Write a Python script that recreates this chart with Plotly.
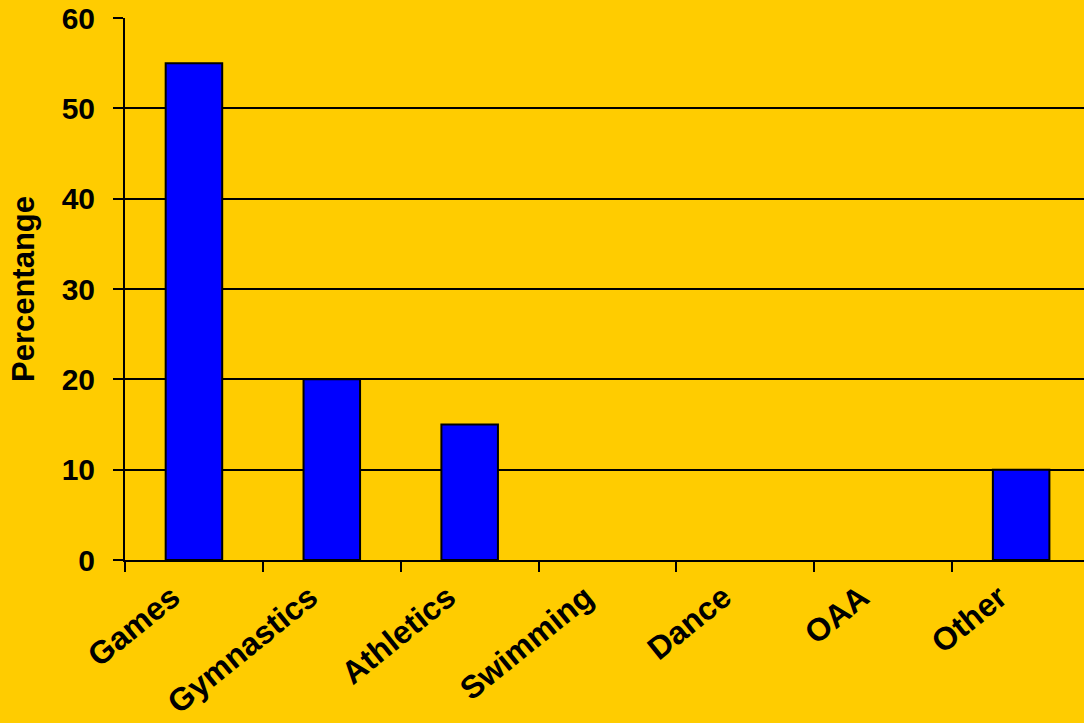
import plotly.graph_objects as go

# Share of PE curriculum time by activity area
activities = ["Games", "Gymnastics", "Athletics", "Swimming", "Dance", "OAA", "Other"]
percentages = [55, 20, 15, 0, 0, 0, 10]
y_ticks = [0, 10, 20, 30, 40, 50, 60]

GOLD = "#FFCC00"
FONT = "Liberation Sans, Arial, sans-serif"

# empty categories get no outline so nothing is drawn on the baseline
outline_widths = [2 if v > 0 else 0 for v in percentages]

fig = go.Figure(
    go.Bar(
        x=activities,
        y=percentages,
        width=0.41,
        marker=dict(color="#0000FF", line=dict(color="black", width=outline_widths)),
    )
)

fig.update_layout(
    width=1084,
    height=723,
    paper_bgcolor=GOLD,
    plot_bgcolor=GOLD,
    margin=dict(l=125, r=0, t=18, b=163),
    showlegend=False,
    font=dict(family=FONT, color="black"),
)

fig.update_xaxes(
    type="category",
    range=[-0.5, 6.456],
    automargin=False,
    showline=True,
    linecolor="black",
    linewidth=2,
    ticks="outside",
    tickson="boundaries",
    ticklen=10,
    tickwidth=2,
    tickcolor="black",
    tickangle=-39,
    ticklabelstandoff=4,
    ticklabelshift=-22,
    tickfont=dict(family=FONT, size=32, color="black", weight="bold"),
    showgrid=False,
)

fig.update_yaxes(
    range=[0, 60],
    tickvals=y_ticks,
    automargin=False,
    showline=True,
    linecolor="black",
    linewidth=2,
    ticks="outside",
    ticklen=10,
    tickwidth=2,
    tickcolor="black",
    ticklabelstandoff=12,
    tickfont=dict(family=FONT, size=30, color="black", weight="bold"),
    showgrid=True,
    gridcolor="black",
    gridwidth=2,
    zeroline=False,
    title=dict(
        text="Percentange",
        font=dict(family=FONT, size=31, color="black", weight="bold"),
        standoff=18,
    ),
)

fig.write_html("out.html")
